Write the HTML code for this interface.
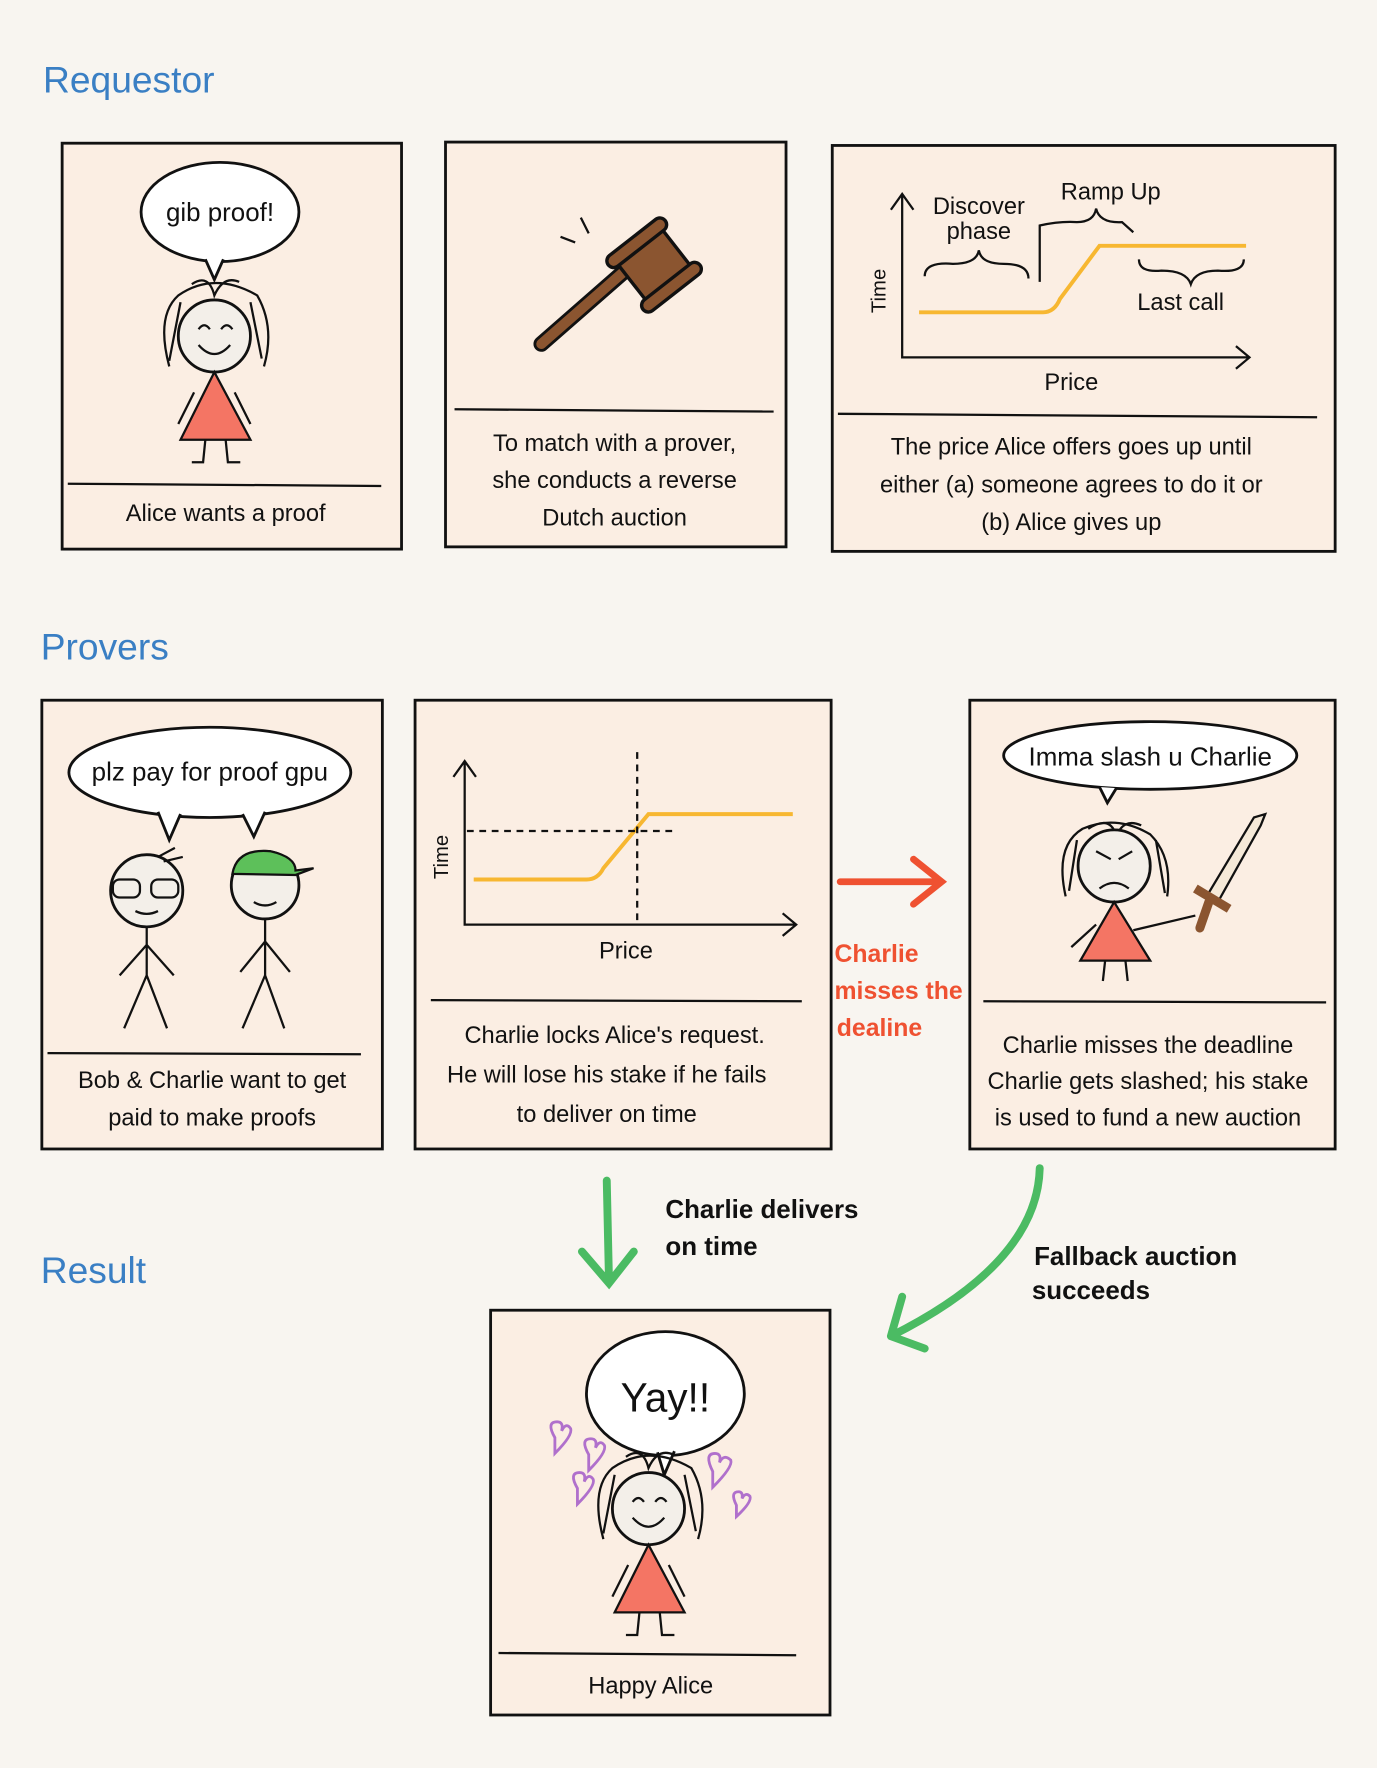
<!DOCTYPE html>
<html><head><meta charset="utf-8"><style>
html,body{margin:0;padding:0;background:#f8f5f0}
svg{display:block}
text{font-family:"Liberation Sans",sans-serif;fill:#111}
.h{fill:#3a7fc4;font-size:33px}
.c{font-size:21px;text-anchor:middle}
.p{fill:#fbeee3;stroke:#111;stroke-width:2.5}
.l{stroke:#111;stroke-width:2;fill:none}
</style></head><body>
<svg width="1377" height="1768" viewBox="0 0 1221 1568" xmlns="http://www.w3.org/2000/svg">
<rect width="1221" height="1568" fill="#f8f5f0"/>
<text class="h" x="38" y="82">Requestor</text>
<text class="h" x="36" y="585">Provers</text>
<text class="h" x="36" y="1138">Result</text>

<defs>
<g id="alice">
<path d="M150 325 Q138 280 158 262 Q190 240 228 262 Q244 290 234 325 M160 268 L150 320 M222 268 L232 318 M170 252 Q185 242 190 262 Q198 244 212 250" class="l" stroke-width="2.5"/>
<circle cx="190" cy="298" r="32" fill="#f3efe9" stroke="#111" stroke-width="2.5"/>
<path d="M176 292 q5 -7 10 0 M196 292 q5 -7 10 0 M176 306 q14 16 28 0" class="l" stroke-width="2.5"/>
<path d="M190 330 L160 390 L222 390 Z" fill="#f47564" stroke="#111" stroke-width="2"/>
<path d="M172 348 L158 376 M208 348 L222 376 M182 390 L180 410 L170 410 M200 390 L202 410 L213 410" class="l" stroke-width="2.5"/>
</g>
</defs>

<!-- Row 1 -->
<rect class="p" x="55" y="127" width="301" height="360"/>
<line class="l" x1="60" y1="429" x2="338" y2="431"/>
<text class="c" x="200" y="462">Alice wants a proof</text>
<ellipse cx="195" cy="188" rx="70" ry="44" fill="#fff" stroke="#111" stroke-width="2.5"/>
<path d="M182 230 L190 248 L198 230" fill="#fff" stroke="#111" stroke-width="2.5"/>
<text x="195" y="196" font-size="23" text-anchor="middle">gib proof!</text>
<use href="#alice"/>

<rect class="p" x="395" y="126" width="302" height="359"/>
<line class="l" x1="403" y1="363" x2="686" y2="365"/>
<text class="c" x="545" y="400">To match with a prover,</text>
<text class="c" x="545" y="433">she conducts a reverse</text>
<text class="c" x="545" y="466">Dutch auction</text>
<line x1="480" y1="305" x2="560" y2="235" stroke="#111" stroke-width="14" stroke-linecap="round"/>
<line x1="480" y1="305" x2="560" y2="235" stroke="#8b5530" stroke-width="9" stroke-linecap="round"/>
<g transform="rotate(-38 580 235)"><rect x="555" y="212" width="50" height="46" fill="#8b5530" stroke="#111" stroke-width="3"/><rect x="548" y="204" width="64" height="12" rx="6" fill="#8b5530" stroke="#111" stroke-width="3"/><rect x="548" y="254" width="64" height="12" rx="6" fill="#8b5530" stroke="#111" stroke-width="3"/></g>
<path d="M515 193 L522 207 M497 210 L510 215" class="l" stroke-width="2.5"/>

<rect class="p" x="738" y="129" width="446" height="360"/>
<line class="l" x1="743" y1="367" x2="1168" y2="370"/>
<text class="c" x="950" y="403">The price Alice offers goes up until</text>
<text class="c" x="950" y="437">either (a) someone agrees to do it or</text>
<text class="c" x="950" y="470">(b) Alice gives up</text>
<path d="M800 172 L800 317 L1108 317 M790 186 L800 172 L810 186 M1096 307 L1108 317 L1096 327" class="l" stroke-width="3"/>
<path d="M815 277 L925 277 Q935 277 940 265 L975 218 L1105 218" fill="none" stroke="#f7b731" stroke-width="3.5"/>
<text x="868" y="190" font-size="21" text-anchor="middle">Discover</text>
<text x="868" y="212" font-size="21" text-anchor="middle">phase</text>
<text x="985" y="177" font-size="21" text-anchor="middle">Ramp Up</text>
<text x="1047" y="275" font-size="21" text-anchor="middle">Last call</text>
<text x="785" y="258" font-size="18" transform="rotate(-90 785 258)" text-anchor="middle">Time</text>
<text x="950" y="346" font-size="21" text-anchor="middle">Price</text>
<path d="M820 245 Q820 232 845 234 Q866 234 868 222 Q870 234 890 234 Q912 234 912 247" class="l"/>
<path d="M922 250 L922 200 Q940 196 955 197 Q970 197 972 185 Q975 198 995 197 L1005 206" class="l"/>
<path d="M1010 230 Q1010 242 1030 240 Q1052 240 1056 252 Q1060 240 1080 240 Q1103 242 1103 230" class="l"/>

<!-- Row 2 -->
<rect class="p" x="37" y="621" width="302" height="398"/>
<line class="l" x1="42" y1="934" x2="320" y2="935"/>
<text class="c" x="188" y="965">Bob &amp; Charlie want to get</text>
<text class="c" x="188" y="998">paid to make proofs</text>
<ellipse cx="186" cy="685" rx="125" ry="40" fill="#fff" stroke="#111" stroke-width="2.5"/>
<path d="M140 720 L150 745 L160 722 M215 722 L225 742 L235 720" fill="#fff" stroke="#111" stroke-width="2.5"/>
<text x="186" y="692" font-size="23" text-anchor="middle">plz pay for proof gpu</text>
<circle cx="130" cy="790" r="32" fill="#f3efe9" stroke="#111" stroke-width="2.5"/>
<rect x="100" y="780" width="24" height="16" rx="6" class="l" stroke-width="2.5"/><rect x="134" y="780" width="24" height="16" rx="6" class="l" stroke-width="2.5"/>
<path d="M120 808 q10 5 20 0 M130 822 L130 865 L110 912 M130 865 L148 912 M130 838 L106 865 M130 838 L154 865 M140 760 L155 752 M145 764 L162 760" class="l" stroke-width="2.5"/>
<circle cx="235" cy="785" r="30" fill="#f3efe9" stroke="#111" stroke-width="2.5"/>
<path d="M206 775 Q210 752 240 755 Q262 760 262 772 L278 770 L262 776 Z" fill="#5dc05a" stroke="#111" stroke-width="2"/>
<path d="M225 800 q10 6 20 0 M235 815 L235 865 L215 912 M235 865 L252 912 M235 835 L213 862 M235 835 L257 862" class="l" stroke-width="2.5"/>

<rect class="p" x="368" y="621" width="369" height="398"/>
<line class="l" x1="382" y1="887" x2="711" y2="888"/>
<text class="c" x="545" y="925">Charlie locks Alice's request.</text>
<text class="c" x="538" y="960">He will lose his stake if he fails</text>
<text class="c" x="538" y="995">to deliver on time</text>
<path d="M412 675 L412 820 L706 820 M402 689 L412 675 L422 689 M694 810 L706 820 L694 830" class="l" stroke-width="3"/>
<path d="M420 780 L520 780 Q530 780 535 770 L575 722 L703 722" fill="none" stroke="#f7b731" stroke-width="3.5"/>
<path d="M414 737 L596 737 M565 667 L565 820" stroke="#111" stroke-width="2" stroke-dasharray="6 5"/>
<text x="397" y="760" font-size="18" transform="rotate(-90 397 760)" text-anchor="middle">Time</text>
<text x="555" y="850" font-size="21" text-anchor="middle">Price</text>

<path d="M745 782 L832 782 M810 762 L835 782 L810 802" fill="none" stroke="#ef5131" stroke-width="6" stroke-linecap="round"/>
<g font-size="22" font-weight="bold">
<text x="740" y="853" style="fill:#ef5131">Charlie</text>
<text x="740" y="886" style="fill:#ef5131">misses the</text>
<text x="742" y="919" style="fill:#ef5131">dealine</text></g>

<rect class="p" x="860" y="621" width="324" height="398"/>
<line class="l" x1="872" y1="888" x2="1176" y2="889"/>
<text class="c" x="1018" y="934">Charlie misses the deadline</text>
<text class="c" x="1018" y="966">Charlie gets slashed; his stake</text>
<text class="c" x="1018" y="998">is used to fund a new auction</text>
<ellipse cx="1020" cy="670" rx="130" ry="30" fill="#fff" stroke="#111" stroke-width="2.5"/>
<path d="M975 698 L982 712 L990 699" fill="#fff" stroke="#111" stroke-width="2.5"/>
<text x="1020" y="679" font-size="23" text-anchor="middle">Imma slash u Charlie</text>
<path d="M945 795 Q935 750 960 735 Q990 722 1020 740 Q1040 760 1035 795 M955 745 L948 790 M1025 745 L1033 792 M965 735 Q985 722 990 742 Q996 725 1012 732" class="l" stroke-width="2.5"/>
<circle cx="988" cy="768" r="32" fill="#f3efe9" stroke="#111" stroke-width="2.5"/>
<path d="M972 755 L985 762 M1004 755 L992 762 M975 788 q13 -10 26 0" class="l" stroke-width="2.5"/>
<path d="M988 800 L958 852 L1020 852 Z" fill="#f47564" stroke="#111" stroke-width="2"/>
<path d="M1005 825 L1060 812 M972 820 L950 840 M980 852 L978 870 M998 852 L1000 870" class="l" stroke-width="2.5"/>
<path d="M1070 795 L1112 725 L1122 722 L1118 732 L1080 800 Z" fill="#f5e9d8" stroke="#111" stroke-width="2"/>
<line x1="1060" y1="788" x2="1090" y2="806" stroke="#8b5530" stroke-width="8"/>
<line x1="1072" y1="800" x2="1064" y2="823" stroke="#8b5530" stroke-width="8" stroke-linecap="round"/>

<!-- arrows -->
<path d="M538 1047 L540 1137 M516 1110 L540 1138 L562 1110" fill="none" stroke="#4bbb63" stroke-width="7" stroke-linecap="round"/>
<g font-size="23" font-weight="bold"><text x="590" y="1080">Charlie delivers</text><text x="590" y="1113">on time</text>
<text x="917" y="1122">Fallback auction</text><text x="915" y="1152">succeeds</text></g>
<path d="M922 1036 Q920 1120 790 1185 M790 1185 L800 1150 M790 1185 L820 1196" fill="none" stroke="#4bbb63" stroke-width="7" stroke-linecap="round"/>

<!-- Result -->
<rect class="p" x="435" y="1162" width="301" height="359"/>
<line class="l" x1="442" y1="1466" x2="706" y2="1468"/>
<text class="c" x="577" y="1502">Happy Alice</text>
<ellipse cx="590" cy="1236" rx="70" ry="55" fill="#fff" stroke="#111" stroke-width="2.5"/>
<path d="M583 1288 L589 1308 L598 1287" fill="#fff" stroke="#111" stroke-width="2.5"/>
<text x="590" y="1252" font-size="36" text-anchor="middle">Yay!!</text>
<g fill="none" stroke="#b070cc" stroke-width="2.5">
<path d="M492 1275 q-8 -14 2 -14 q6 0 4 8 q4 -8 8 -2 q2 6 -14 22 z"/>
<path d="M522 1290 q-8 -14 2 -14 q6 0 4 8 q4 -8 8 -2 q2 6 -14 22 z"/>
<path d="M512 1320 q-8 -14 2 -14 q6 0 4 8 q4 -8 8 -2 q2 6 -14 22 z"/>
<path d="M632 1305 q-8 -16 2 -16 q6 0 4 8 q4 -8 10 -2 q2 6 -16 24 z"/>
<path d="M653 1335 q-6 -12 2 -12 q4 0 3 6 q3 -6 7 -2 q2 5 -12 18 z"/>
</g>
<use href="#alice" transform="translate(385 1040)"/>
</svg>
</body></html>
